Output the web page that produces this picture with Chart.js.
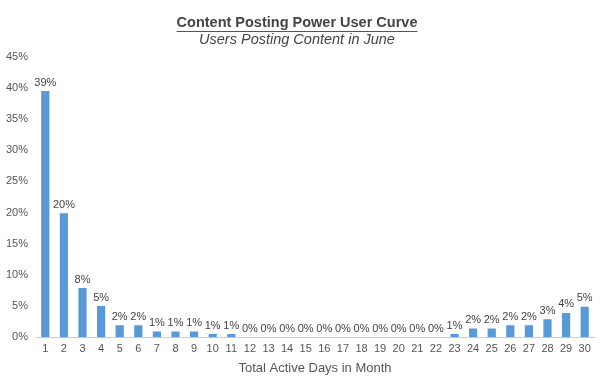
<!DOCTYPE html>
<html><head><meta charset="utf-8">
<script src="https://cdn.jsdelivr.net/npm/chart.js@4/dist/chart.umd.min.js"></script>
<style>html,body{margin:0;padding:0;background:#fff}#wrap{width:600px;height:381px}</style>
</head><body><div id="wrap"><canvas id="c" width="600" height="381"></canvas></div>
<script>
const days = ['1','2','3','4','5','6','7','8','9','10','11','12','13','14','15','16','17','18','19','20','21','22','23','24','25','26','27','28','29','30'];
const sharePct = [39.5,19.9,7.9,5.0,1.9,1.9,0.9,0.9,0.9,0.5,0.5,0,0,0,0,0,0,0,0,0,0,0,0.5,1.4,1.4,1.9,1.9,2.9,3.9,4.9];
const pointLabels = ['39%','20%','8%','5%','2%','2%','1%','1%','1%','1%','1%','0%','0%','0%','0%','0%','0%','0%','0%','0%','0%','0%','1%','2%','2%','2%','2%','3%','4%','5%'];
const yTicks = [0,5,10,15,20,25,30,35,40,45];

const FONT = '"Liberation Sans", Arial, Helvetica, sans-serif';

const labelPlugin = {
  id: 'barLabels',
  afterDatasetsDraw(chart) {
    const ctx = chart.ctx;
    const meta = chart.getDatasetMeta(0);
    ctx.save();
    ctx.font = '11px ' + FONT;
    ctx.fillStyle = '#444';
    ctx.textAlign = 'center';
    ctx.textBaseline = 'bottom';
    meta.data.forEach((bar, i) => {
      ctx.fillText(pointLabels[i], bar.x, bar.y - 3);
    });
    ctx.restore();
  }
};

const underlinePlugin = {
  id: 'titleUnderline',
  afterDraw(chart) {
    const tb = chart.titleBlock;
    if (!tb) return;
    const ctx = chart.ctx;
    ctx.save();
    ctx.font = 'bold 14.5px ' + FONT;
    const w = ctx.measureText(chart.options.plugins.title.text).width;
    const cx = (tb.left + tb.right) / 2;
    const y = tb.top + tb.height - chart.options.plugins.title.padding.bottom;
    ctx.strokeStyle = '#555';
    ctx.lineWidth = 1;
    ctx.beginPath();
    ctx.moveTo(cx - w / 2, Math.round(y) + 0.5);
    ctx.lineTo(cx + w / 2, Math.round(y) + 0.5);
    ctx.stroke();
    ctx.restore();
  }
};

new Chart(document.getElementById('c'), {
  type: 'bar',
  data: {
    labels: days,
    datasets: [{
      data: sharePct,
      backgroundColor: '#5899d8',
      barPercentage: 0.8,
      categoryPercentage: 0.55
    }]
  },
  options: {
    responsive: false,
    animation: false,
    devicePixelRatio: 1,
    layout: { padding: { left: 0, right: 6, top: 14, bottom: 1 } },
    plugins: {
      legend: { display: false },
      tooltip: { enabled: false },
      title: {
        display: true,
        text: 'Content Posting Power User Curve',
        color: '#444',
        font: { family: FONT, size: 14.5, weight: 'bold' },
        padding: { top: 0, bottom: 0 }
      },
      subtitle: {
        display: true,
        text: 'Users Posting Content in June',
        color: '#444',
        font: { family: FONT, size: 14.5, style: 'italic', weight: 'normal' },
        padding: { top: 0, bottom: 8 }
      }
    },
    scales: {
      x: {
        grid: { display: false, drawTicks: false },
        border: { display: true, color: '#ccc' },
        ticks: { color: '#555', font: { family: FONT, size: 11 }, padding: 5, maxRotation: 0, autoSkip: false },
        title: { display: true, text: 'Total Active Days in Month', color: '#555', font: { family: FONT, size: 13 }, padding: { top: 0, bottom: 4 } }
      },
      y: {
        min: 0, max: 45,
        afterBuildTicks(axis) { axis.ticks = yTicks.map(v => ({ value: v })); },
        afterFit(axis) { axis.width = 36; },
        grid: { display: false, drawTicks: false },
        border: { display: false },
        ticks: { color: '#555', font: { family: FONT, size: 11 }, padding: 8, callback: v => v + '%' }
      }
    }
  },
  plugins: [labelPlugin, underlinePlugin]
});
</script></body></html>
